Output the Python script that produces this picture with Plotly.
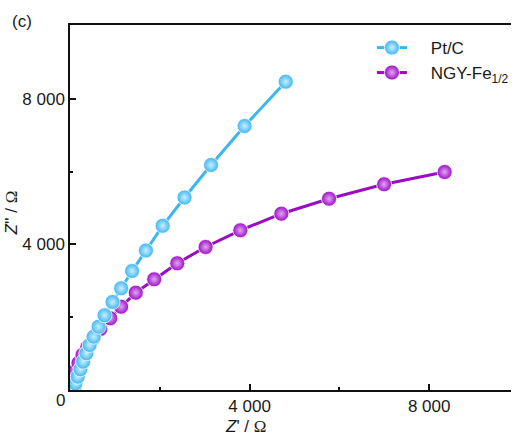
import plotly.graph_objects as go

# Nyquist data (Z' and Z'' in ohm)
ptc_zre = [100, 122, 173, 232, 292, 365, 438, 527, 637, 770, 947, 1139,
           1383, 1692, 2064, 2551, 3142, 3889, 4805]
ptc_zim = [55, 184, 366, 569, 778, 1009, 1237, 1465, 1740, 2053, 2419, 2795,
           3271, 3834, 4513, 5291, 6185, 7257, 8475]

ngy_zre = [22, 55, 111, 188, 277, 387, 520, 675, 896, 1139, 1465, 1876,
           2389, 3020, 3794, 4708, 5770, 6996, 8345]
ngy_zim = [137, 330, 522, 742, 962, 1182, 1429, 1677, 1971, 2290, 2675, 3043,
           3483, 3931, 4390, 4846, 5258, 5654, 5992]

# the shared origin label "0" is drawn once at the corner
major_ticks = [4000, 8000]
major_labels = ["4 000", "8 000"]
minor_ticks = [2000, 6000]
origin_label = "0"

BLUE = "#3cb6f0"
PURPLE = "#9a0cc4"
FONT = "Liberation Sans, Arial, sans-serif"
TXT = "#1a1a1a"
NB = "\u00a0"

# plot area in pixels
L, R, T, B = 70, 514, 25, 390
PW, PH = R - L, B - T


def px(xp):
    return (xp - L) / PW


def py(yp):
    return (B - yp) / PH


fig = go.Figure()


def add_series(x, y, name, color, highlight, legend):
    fig.add_trace(go.Scatter(
        x=x, y=y, name=name, mode="lines+markers", legend=legend,
        line=dict(color=color, width=3),
        marker=dict(symbol="circle", size=15, color=color,
                    gradient=dict(type="radial", color=highlight),
                    line=dict(color="white", width=0.8)),
    ))


# NGY drawn first so the Pt/C spheres sit on top near the origin
add_series(ngy_zre, ngy_zim, NB * 4 + "NGY-Fe<sub>1/2</sub>", PURPLE, "#e2a6f2", "legend2")
add_series(ptc_zre, ptc_zim, NB * 4 + "Pt/C", BLUE, "#c9eeff", "legend")

axis_common = dict(
    showline=True, linecolor="#111", linewidth=1.5,
    ticks="inside", ticklen=6, tickwidth=1.5, tickcolor="#111",
    tickvals=major_ticks, ticktext=major_labels,
    minor=dict(tickvals=minor_ticks, ticks="inside", ticklen=3,
               tickwidth=1.5, tickcolor="#111"),
    showgrid=False, zeroline=False,
    tickfont=dict(family=FONT, size=17, color=TXT),
)

OMEGA = "<span style='font-family:Liberation Serif'>Ω</span>"
legend_common = dict(xanchor="left", yanchor="middle", bgcolor="rgba(0,0,0,0)",
                     font=dict(family=FONT, size=17, color=TXT))

fig.update_layout(
    width=514, height=438,
    margin=dict(l=L, r=514 - R, t=T, b=438 - B),
    paper_bgcolor="white", plot_bgcolor="white",
    showlegend=True,
    legend=dict(x=px(374), y=py(48), **legend_common),
    legend2=dict(x=px(374), y=py(73), **legend_common),
    xaxis=dict(range=[0, 9823], mirror=True, **axis_common),
    yaxis=dict(range=[0, 10033], mirror=False, **axis_common),
    annotations=[
        dict(text=origin_label, x=0, y=0, xref="x", yref="y", showarrow=False,
             xshift=-10, yshift=-10, font=dict(family=FONT, size=17, color=TXT)),
        dict(text="(c)", x=px(22), y=py(22), xref="paper", yref="paper",
             xanchor="center", yanchor="middle", showarrow=False,
             font=dict(family=FONT, size=17, color=TXT)),
        dict(text="<i>Z</i>' / " + OMEGA, x=px(247), y=py(427), xref="paper", yref="paper",
             xanchor="center", yanchor="middle", showarrow=False,
             font=dict(family=FONT, size=17, color=TXT)),
        dict(text="<i>Z</i>'' / " + OMEGA, x=px(11), y=py(213), xref="paper", yref="paper",
             xanchor="center", yanchor="middle", textangle=-90, showarrow=False,
             font=dict(family=FONT, size=17, color=TXT)),
    ],
)

fig.write_html("out.html")
